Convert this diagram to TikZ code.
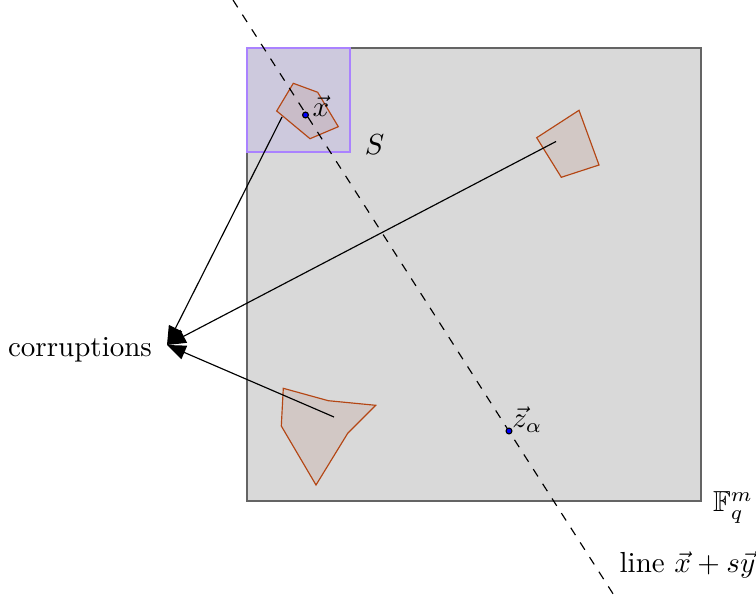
\documentclass[tikz,border=0pt]{standalone}
\usepackage{amssymb}
\usetikzlibrary{arrows.meta}
\definecolor{sqfill}{RGB}{217,217,217}
\definecolor{sqdraw}{RGB}{100,100,100}
\definecolor{lavfill}{RGB}{120,90,255}
\definecolor{lavdraw}{RGB}{170,130,255}
\definecolor{polyfill}{RGB}{190,150,140}
\definecolor{polydraw}{RGB}{180,70,20}
\tikzset{
  bigsq/.style={fill=sqfill, draw=sqdraw},
  smallsq/.style={fill=lavfill, fill opacity=0.12, draw=lavdraw, draw opacity=1},
  corr/.style={fill=polyfill, fill opacity=0.25, draw=polydraw, draw opacity=1},
  ptdot/.style={circle, fill=blue, draw=black, inner sep=0pt, minimum size=2pt},
  corrarrow/.style={-{Triangle[length=6.5pt,width=5pt]}},
  lbl/.style={inner sep=0pt}
}
\begin{document}
\begin{tikzpicture}[x=0.0121212cm, y=-0.0121212cm]
\useasboundingbox (0,0) rectangle (756,605);
% field
\draw[bigsq] (247,48) rectangle (701,501);
% S
\draw[smallsq] (247,48) rectangle (350,152);
% corrupted regions
\draw[corr] (293.3,83.3) -- (317.7,92.3) -- (338.3,126.7) -- (310,138.7) -- (276.7,111) -- cycle;
\draw[corr] (579,110.3) -- (599,165) -- (561.3,177.3) -- (536.7,137.7) -- cycle;
\draw[corr] (283.3,388.3) -- (328.3,400.7) -- (375.7,405.3) -- (347.7,433.3) -- (316,485) -- (281.3,426) -- cycle;
% line
\coordinate (l1) at (233,0);
\coordinate (l2) at (617,600);
\draw[dashed] (l1) -- (l2);
% points
\node[ptdot] (x) at (305.5,115) {};
\node[ptdot] (z) at (509,431) {};
\node[lbl, anchor=base] (xl) at (321,117) {$\vec{x}$};
\node[lbl, anchor=base] (zl) at (527.5,428) {$\vec{z}_\alpha$};
\node[lbl, anchor=base] (Sl) at (374.5,155) {$S$};
\node[lbl, anchor=base] (Fl) at (733,512) {$\mathbb{F}_q^m$};
\node[lbl, anchor=base] (ll) at (687.5,572) {line $\vec{x}+s\vec{y}$};
% corruptions
\node[lbl, anchor=base] (cl) at (80,357) {corruptions};
\coordinate (tip) at (167,345);
\coordinate (a1) at (282,117);
\coordinate (a2) at (556,141.5);
\coordinate (a3) at (334,417);
\draw[corrarrow] (a1) -- (tip);
\draw[corrarrow] (a2) -- (tip);
\draw[corrarrow] (a3) -- (tip);
\end{tikzpicture}
\end{document}
